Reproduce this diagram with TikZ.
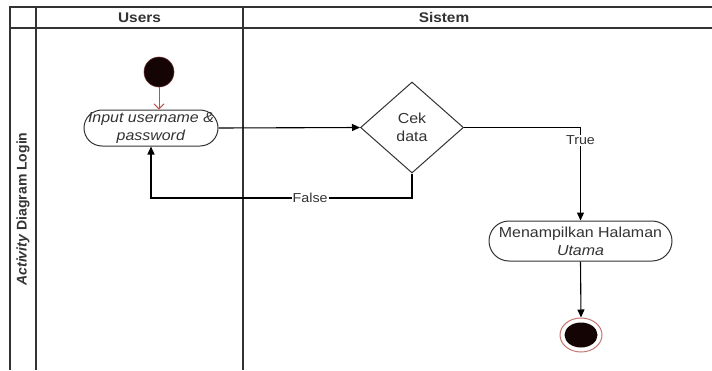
\documentclass[tikz,border=0pt]{standalone}
\usepackage{fontspec}
\setmainfont{Liberation Sans}[FakeStretch=1.1]
\newfontfamily\titlefont{Liberation Sans}
\usetikzlibrary{shapes.geometric,arrows.meta}
\definecolor{lanegray}{HTML}{333333}
\definecolor{txt}{HTML}{333333}
\definecolor{startred}{HTML}{B85450}
\definecolor{dotblack}{HTML}{140404}
\begin{document}
\begin{tikzpicture}[x=1pt,y=-1pt,
  lane/.style={draw=lanegray,line width=1.3pt},
  head/.style={font=\fontsize{14}{16}\selectfont\bfseries,text=txt},
  act/.style={draw=black!80,line width=1pt,rectangle,rounded corners=18pt,
    align=center,text=txt,font=\fontsize{14.5}{18}\selectfont,inner sep=0pt},
  flow/.style={draw=black,line width=1.1pt,-{Triangle[length=8pt,width=7pt]}},
  lbl/.style={fill=white,inner sep=1pt,text=txt,font=\fontsize{13}{14}\selectfont}]
\useasboundingbox (0,0) rectangle (712,370);
\fill[white] (0,0) rectangle (712,370);
% swimlane frame
\draw[lane] (10,370) -- (10,7) -- (712,7);
\draw[lane] (10,28) -- (712,28);
\draw[lane] (36,7) -- (36,370);
\draw[lane] (243,7) -- (243,370);
\node[head] (hu) at (139.5,17.5) {Users};
\node[head] (hs) at (444,17.5) {Sistem};
\node[head,rotate=90,font=\titlefont\fontsize{14}{16}\selectfont\bfseries] (title) at (23,209) {\textit{Activity} Diagram Login};
% nodes
\node[circle,fill=dotblack,draw=startred!60!black,line width=0.6pt,minimum size=30pt,inner sep=0pt] (start) at (159,72) {};
\node[act,minimum width=134pt,minimum height=36pt] (in) at (151,128) {\textit{Input username \&}\\\textit{password}};
\node[diamond,draw=black!80,line width=1pt,minimum width=103pt,minimum height=91pt,inner sep=0pt,
  align=center,text=txt,font=\fontsize{14.5}{18}\selectfont] (cek) at (412,127.5) {Cek\\data};
\node[act,minimum width=183pt,minimum height=40pt,rounded corners=20pt] (menu) at (580.5,241) {Menampilkan Halaman\\\textit{Utama}};
\node[ellipse,draw=startred!80,fill=white,line width=1pt,minimum width=42pt,minimum height=34pt,inner sep=0pt] (end) at (581,335) {};
\node[ellipse,fill=dotblack,minimum width=33pt,minimum height=25pt,inner sep=0pt] (endin) at (end.center) {};
% connectors
\draw[draw=startred,line width=1pt,-{Straight Barb[length=5pt,width=10pt]}] (start.south) -- (start.south |- in.north);
\draw[flow] (in.east) -- (cek.west);
\draw[flow] (cek.east) -| node[lbl,pos=0.57]{True} (menu.north);
\coordinate (fb) at (412,198);
\draw[flow] (cek.south) -- (fb) -| node[lbl,pos=0.195]{False} (in.south);
\draw[flow] (menu.south) -- (end.north);
\end{tikzpicture}
\end{document}
